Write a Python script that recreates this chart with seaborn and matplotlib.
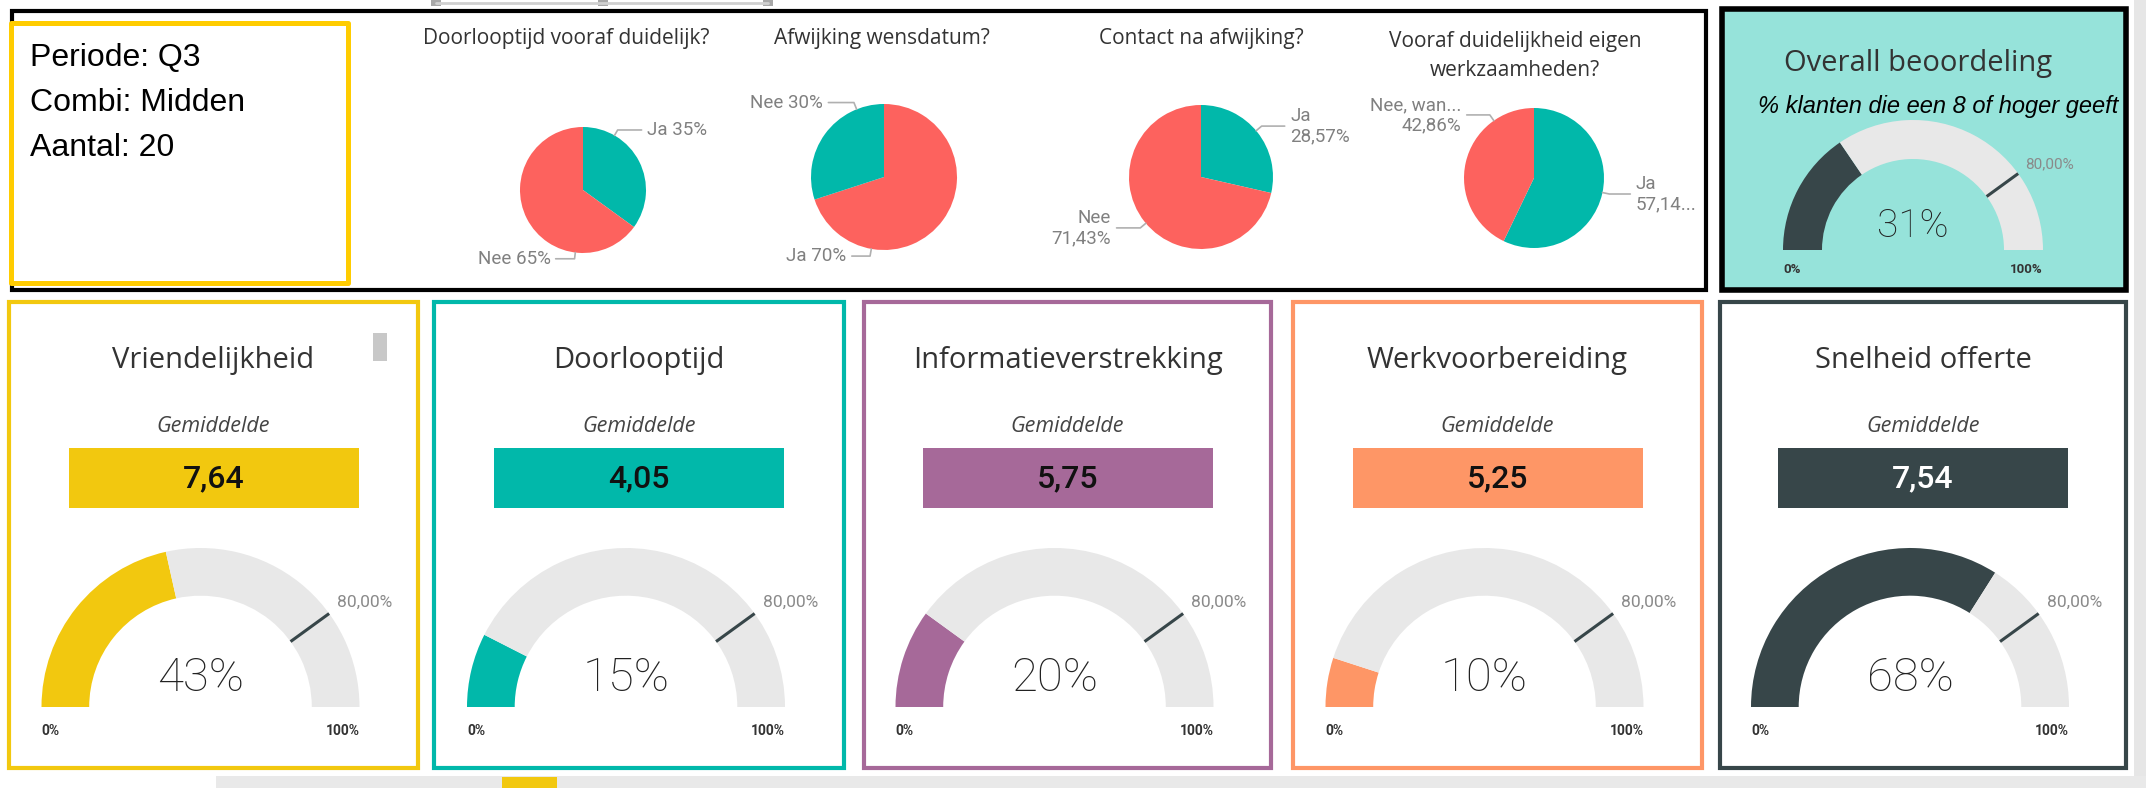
import numpy as np
import matplotlib
matplotlib.use("Agg")
import matplotlib.pyplot as plt
import matplotlib.patches as mpatches
import seaborn as sns

# Data
periode = "Q3"
combi = "Midden"
aantal = 20

pie_titles = ["Doorlooptijd vooraf duidelijk?", "Afwijking wensdatum?",
              "Contact na afwijking?", "Vooraf duidelijkheid eigen\nwerkzaamheden?"]
pie_values = [[35, 65], [70, 30], [28.57, 71.43], [57.14, 42.86]]
pie_labels = [["Ja 35%", "Nee 65%"], ["Ja 70%", "Nee 30%"],
              ["Ja\n28,57%", "Nee\n71,43%"], ["Ja\n57,14...", "Nee, wan...\n42,86%"]]

kpi_names = ["Vriendelijkheid", "Doorlooptijd", "Informatieverstrekking",
             "Werkvoorbereiding", "Snelheid offerte"]
kpi_means = [7.64, 4.05, 5.75, 5.25, 7.54]
kpi_pct = [43, 15, 20, 10, 68]
overall_pct = 31
target = 80

# Kleuren
sns.set_theme(style="white")
plt.rcParams["font.family"] = ["Open Sans", "DejaVu Sans"]
kpi_colors = sns.color_palette(["#F2C80F", "#01B8AA", "#A66999", "#FE9666", "#374649"])
TEAL, RED = "#01B8AA", "#FD625E"
GRAY = "#E8E8E8"
DARK = "#374649"
pie_colors = [[TEAL, RED], [RED, TEAL], [TEAL, RED], [TEAL, RED]]

W, H = 2146, 788
fig = plt.figure(figsize=(W / 100, H / 100), dpi=100)


def px_axes(x0, y0, x1, y1):
    ax = fig.add_axes([x0 / W, 1 - y1 / H, (x1 - x0) / W, (y1 - y0) / H])
    ax.set_facecolor("none")
    return ax


# achtergrond in pixelcoordinaten
bg = px_axes(0, 0, W, H)
bg.set_xlim(0, W)
bg.set_ylim(H, 0)
bg.axis("off")


def rect(x0, y0, x1, y1, **kw):
    bg.add_patch(mpatches.Rectangle((x0, y0), x1 - x0, y1 - y0, **kw))


rect(216, 776, W, H, facecolor="#E9E9E9", edgecolor="none")
rect(502, 777, 557, H, facecolor="#F2C80F", edgecolor="none")
rect(2134, 0, W, 776, facecolor="#E6E6E6", edgecolor="none")
bg.plot([436, 768], [3, 3], color="#D0D0D0", lw=2)
for hx in [436, 603, 768]:
    rect(hx - 5, 0, hx + 5, 6, facecolor="#A8A8A8", edgecolor="none")

# bovenste blok
rect(12, 11, 1706, 290, facecolor="white", edgecolor="black", lw=3)
rect(11, 23, 348, 283, facecolor="white", edgecolor="#FFCC00", lw=3.6, joinstyle="round")
for i, t in enumerate([f"Periode: {periode}", f"Combi: {combi}", f"Aantal: {aantal}"]):
    bg.text(30, 58 + i * 45, t, fontsize=23, family="Liberation Sans", va="center", color="black")

# overall
rect(1722, 9, 2126, 290, facecolor="#96E3DA", edgecolor="black", lw=4)
bg.text(1918, 63, "Overall beoordeling", fontsize=21, color="#333333", ha="center", va="center")
bg.text(1758, 106, "% klanten die een 8 of hoger geeft", fontsize=17, style="italic",
        family="Liberation Sans", color="black", ha="left", va="center")

# pies
pie_centers = [(583, 190, 63), (884, 177, 73), (1201, 177, 72), (1534, 178, 70)]
title_pos = [(566, 38), (882, 38), (1201, 38), (1515, 56)]
# (hoek van leader, lengte horizontaal, kant)
leader = [[(60, 0.38, 1), (-97, 0.3, -1)],
          [(-100, 0.25, -1), (112, 0.35, -1)],
          [(40, 0.32, 1), (-140, 0.33, -1)],
          [(-12, 0.3, 1), (125, 0.33, -1)]]

for k in range(4):
    cx, cy, r = pie_centers[k]
    bg.text(title_pos[k][0], title_pos[k][1], pie_titles[k], fontsize=15, color="#333333",
            ha="center", va="center", linespacing=1.55)
    ax = px_axes(cx - 2.4 * r, cy - 1.5 * r, cx + 2.4 * r, cy + 1.5 * r)
    ax.pie(pie_values[k], colors=pie_colors[k], startangle=90, counterclock=False,
           radius=1, wedgeprops=dict(edgecolor="none"))
    ax.set_aspect("auto")
    ax.set_xlim(-2.4, 2.4)
    ax.set_ylim(-1.5, 1.5)
    ax.axis("off")
    for j, lab in enumerate(pie_labels[k]):
        a, d, side = leader[k][j]
        a = np.deg2rad(a)
        ex, ey = np.cos(a), np.sin(a)
        bx, by = 1.1 * ex, 1.1 * ey
        tx = bx + side * d
        ax.plot([ex, bx, tx], [ey, by, by], color="#B0B0B0", lw=1.2, clip_on=False)
        ax.text(tx + side * 0.08, by, lab, fontsize=13.5, family="Roboto", color="#808080",
                ha="left" if side > 0 else "right", va="center", linespacing=1.15)


def gauge(cx, cy, r, value, color, valsize, lblsize, tgtsize):
    ax = px_axes(cx - 1.35 * r, cy - 1.3 * r, cx + 1.35 * r, cy + 0.35 * r)
    ax.pie([value, 100 - value, 100], colors=[color, GRAY, "none"], startangle=180,
           counterclock=False, radius=1, wedgeprops=dict(width=0.3, edgecolor="none"))
    ax.set_aspect("auto")
    ax.set_xlim(-1.35, 1.35)
    ax.set_ylim(-0.35, 1.3)
    ax.axis("off")
    a = np.pi * (1 - target / 100)
    ax.plot([0.7 * np.cos(a), 1.0 * np.cos(a)], [0.7 * np.sin(a), 1.0 * np.sin(a)],
            color=DARK, lw=2.2, solid_capstyle="butt")
    ax.text(0.86, 0.66, f"{target:.2f}%".replace(".", ","), fontsize=tgtsize, family="Roboto",
            color="#8A8A8A", ha="left", va="center")
    ax.text(0, 0.18, f"{value}%", fontsize=valsize, family="Roboto", fontweight="light",
            color="#222222", ha="center", va="center")
    ax.text(-1, -0.15, "0%", fontsize=lblsize, family="Roboto", fontweight="bold",
            color="#333333", ha="left", va="center")
    ax.text(1, -0.15, "100%", fontsize=lblsize, family="Roboto", fontweight="bold",
            color="#333333", ha="right", va="center")


gauge(1913, 250, 130, overall_pct, DARK, 28, 9.5, 11)

# kaarten onderaan
card_x = [(7, 420), (432, 846), (862, 1273), (1291, 1704), (1718, 2128)]
for i in range(5):
    x0, x1 = card_x[i]
    cx = (x0 + x1) / 2
    col = kpi_colors[i]
    rect(x0 + 2, 302, x1 - 2, 768, facecolor="white", edgecolor=col, lw=3)
    bg.text(cx, 360, kpi_names[i], fontsize=21, color="#333333", ha="center", va="center")
    bg.text(cx, 426, "Gemiddelde", fontsize=15.5, style="italic", color="#444444",
            ha="center", va="center")
    rect(cx - 145, 448, cx + 145, 508, facecolor=col, edgecolor="none")
    bg.text(cx, 479, f"{kpi_means[i]:.2f}".replace(".", ","), fontsize=23, family="Roboto",
            fontweight="medium", color="white" if i == 4 else "#111111", ha="center", va="center")
    gauge(cx - 13, 707, 159, kpi_pct[i], col, 34, 10, 12.5)

rect(373, 333, 387, 361, facecolor="#C8C8C8", edgecolor="none")

fig.savefig("out.png", dpi=100)
